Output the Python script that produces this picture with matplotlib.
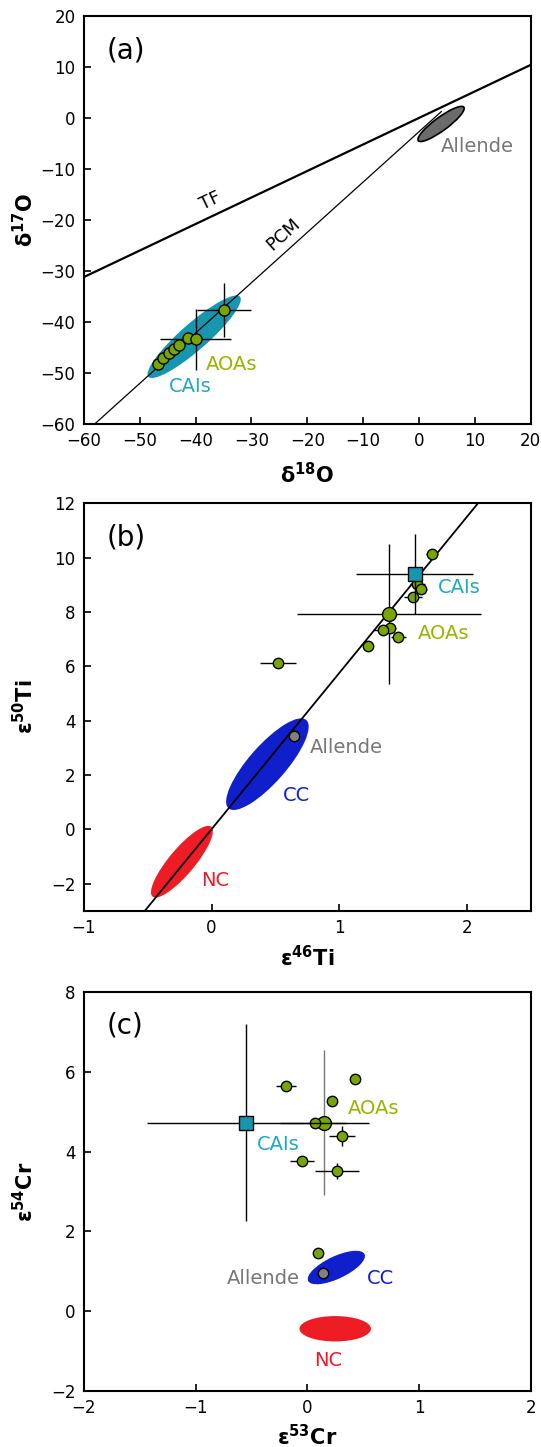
import numpy as np
import matplotlib
matplotlib.use('Agg')
import matplotlib.pyplot as plt
from matplotlib.patches import Ellipse
from matplotlib.transforms import Affine2D

# ---------------- data ----------------
# (a) oxygen isotopes, AOAs
o18_aoa = [-34.9, -40.0, -41.3, -42.9, -43.9, -44.8, -45.9, -46.8]
o17_aoa = [-37.6, -43.4, -43.1, -44.5, -45.3, -46.0, -47.1, -48.2]
o18_err = [4.8, 6.3, 0, 0, 0, 0, 0, 0]
o17_err = [5.3, 6.0, 0, 0, 0, 0, 0, 0]
tf_slope, tf_icpt = 0.52, 0.0
pcm_slope, pcm_icpt = 0.987, -2.7
pcm_xmax = 4.0
# ellipses: centre, half major axis vector (data), minor width (x units)
o_cai_ell = (-40.25, -42.9, 8.2, 7.85, 4.8)
o_allende_ell = (3.95, -1.18, 4.08, 3.28, 2.4)

# (b) titanium isotopes
ti_slope = 5.75
ti46_aoa = [1.726, 1.613, 1.64, 1.579, 1.397, 1.346, 1.462, 1.226, 0.52]
ti50_aoa = [10.12, 9.02, 8.84, 8.56, 7.42, 7.33, 7.07, 6.75, 6.13]
ti46_err = [0.05, 0.06, 0.05, 0.07, 0.05, 0.08, 0.06, 0.03, 0.14]
ti50_err = [0.1, 0.15, 0.15, 0.1, 0.15, 0.1, 0.1, 0.1, 0.05]
ti_aoa_mean = (1.391, 7.93, 0.72, 2.57)
ti_cai = (1.59, 9.40, 0.46, 1.46)
ti_allende = (0.643, 3.43)
ti_nc_ell = (-0.232, -1.195, 0.23, 1.285, 0.2)
ti_cc_ell = (0.4375, 2.395, 0.3045, 1.625, 0.29)

# (c) chromium isotopes
cr53_aoa = [-0.187, 0.43, 0.22, 0.07, 0.312, -0.048, 0.266, 0.097]
cr54_aoa = [5.65, 5.81, 5.28, 4.73, 4.39, 3.76, 3.51, 1.47]
cr53_err = [0.09, 0.03, 0.03, 0.03, 0.115, 0.11, 0.195, 0.0]
cr54_err = [0.05, 0.12, 0.12, 0.05, 0.25, 0.05, 0.2, 0.0]
cr_aoa_mean = (0.152, 4.73, 0.40, 1.82)
cr_cai = (-0.547, 4.73, 0.89, 2.48)
cr_allende = (0.137, 0.96)
cr_cc_ell = (0.26, 1.095, 0.2525, 0.335, 0.2)
cr_nc_ell = (0.25, -0.44, 0.32, 0.0, 0.227)

# ---------------- style ----------------
green = '#78a600'
green_txt = '#9ab400'
teal = '#1796b0'
teal_txt = '#22a8c2'
blue = '#0f1fcc'
red = '#ee1c25'
gray_ell = '#6b6b6b'
gray_txt = '#777777'
gray_pt = '#808080'

plt.rcParams['font.family'] = 'DejaVu Sans'
plt.rcParams['axes.linewidth'] = 1.5

W, H = 5.41, 14.47
fig = plt.figure(figsize=(W, H), dpi=100)

left, width = 0.155, 0.826
ax_a = fig.add_axes([left, 0.707, width, 0.282])
ax_b = fig.add_axes([left, 0.3706, width, 0.2816])
ax_c = fig.add_axes([left, 0.0387, width, 0.2757])


def style(ax, xlim, ylim, xticks, yticks, xlabel, ylabel, tag, xlab_y):
    ax.set_xlim(*xlim)
    ax.set_ylim(*ylim)
    ax.set_xticks(xticks)
    ax.set_yticks(yticks)
    ax.tick_params(direction='in', length=5, width=1.2, top=False, right=False,
                   labelsize=12, pad=6)
    ax.set_xlabel(xlabel, fontsize=15, fontweight='bold')
    ax.set_ylabel(ylabel, fontsize=15, fontweight='bold')
    ax.xaxis.set_label_coords(0.5, xlab_y)
    ax.yaxis.set_label_coords(-0.104, 0.5)
    ax.text(0.05, 0.915, tag, transform=ax.transAxes, fontsize=20,
            ha='left', va='center')


def yscale_k(ax):
    # ratio (y units per px)/(x units per px) so ellipses are drawn isotropically
    bb = ax.get_position()
    x0, x1 = ax.get_xlim()
    y0, y1 = ax.get_ylim()
    return ((y1 - y0) / (bb.height * H)) / ((x1 - x0) / (bb.width * W))


def add_ellipse(ax, ell, **kw):
    cx, cy, dx, dy, minor = ell
    k = yscale_k(ax)
    w = 2 * np.hypot(dx, dy / k)
    ang = np.degrees(np.arctan2(dy / k, dx))
    e = Ellipse((cx, cy / k), w, minor, angle=ang,
                transform=Affine2D().scale(1, k) + ax.transData, **kw)
    ax.add_patch(e)


pt_kw = dict(fmt='o', mfc=green, mec='k', mew=1, ecolor='k', elinewidth=1,
             capsize=0, zorder=5)

# ---------------- (a) ----------------
style(ax_a, (-60, 20), (-60, 20), range(-60, 21, 10), range(-60, 21, 10),
      'δ$^{\\mathbf{18}}$O', 'δ$^{\\mathbf{17}}$O', '(a)', -0.092)
xx = np.array([-60, 20])
ax_a.plot(xx, tf_slope * xx + tf_icpt, color='k', lw=1.6, zorder=4)
xp = np.array([-60, pcm_xmax])
ax_a.plot(xp, pcm_slope * xp + pcm_icpt, color='k', lw=0.9, zorder=2)
add_ellipse(ax_a, o_cai_ell, facecolor=teal, edgecolor='none', zorder=1)
add_ellipse(ax_a, o_allende_ell, facecolor=gray_ell, edgecolor='k', lw=1.2, zorder=3)
ax_a.errorbar(o18_aoa[::-1], o17_aoa[::-1], xerr=o18_err[::-1], yerr=o17_err[::-1],
              ms=8, **pt_kw)
ax_a.text(-37.3, -16.2, 'TF', rotation=25.4, fontsize=13, ha='center', va='center',
          rotation_mode='anchor')
ax_a.text(-24.3, -22.9, 'PCM', rotation=42, fontsize=13, ha='center', va='center',
          rotation_mode='anchor')
ax_a.text(3.9, -5.6, 'Allende', color=gray_txt, fontsize=14, va='center')
ax_a.text(-38.1, -48.4, 'AOAs', color=green_txt, fontsize=14, va='center')
ax_a.text(-44.7, -52.7, 'CAIs', color=teal_txt, fontsize=14, va='center')

# ---------------- (b) ----------------
style(ax_b, (-1, 2.5), (-3, 12), [-1, 0, 1, 2], range(-2, 13, 2),
      'ε$^{\\mathbf{46}}$Ti', 'ε$^{\\mathbf{50}}$Ti', '(b)', -0.083)
add_ellipse(ax_b, ti_nc_ell, facecolor=red, edgecolor='none', zorder=1)
add_ellipse(ax_b, ti_cc_ell, facecolor=blue, edgecolor='none', zorder=1)
xb = np.array([-1, 2.5])
ax_b.plot(xb, ti_slope * xb, color='k', lw=1.3, zorder=2)
ax_b.errorbar(ti46_aoa, ti50_aoa, xerr=ti46_err, yerr=ti50_err, ms=7.5, **pt_kw)
ax_b.errorbar([ti_aoa_mean[0]], [ti_aoa_mean[1]], xerr=[ti_aoa_mean[2]],
              yerr=[ti_aoa_mean[3]], ms=10, **pt_kw)
ax_b.errorbar([ti_cai[0]], [ti_cai[1]], xerr=[ti_cai[2]], yerr=[ti_cai[3]],
              fmt='s', mfc=teal, mec='k', mew=1, ms=10, ecolor='k', elinewidth=1,
              capsize=0, zorder=6)
ax_b.plot([ti_allende[0]], [ti_allende[1]], 'o', mfc=gray_pt, mec='k', mew=1, ms=7.5,
          zorder=5)
ax_b.text(1.775, 8.91, 'CAIs', color=teal_txt, fontsize=14, va='center')
ax_b.text(1.616, 7.19, 'AOAs', color=green_txt, fontsize=14, va='center')
ax_b.text(0.769, 3.0, 'Allende', color=gray_txt, fontsize=14, va='center')
ax_b.text(0.561, 1.26, 'CC', color=blue, fontsize=14, va='center')
ax_b.text(-0.083, -1.87, 'NC', color=red, fontsize=14, va='center')

# ---------------- (c) ----------------
style(ax_c, (-2, 2), (-2, 8), [-2, -1, 0, 1, 2], range(-2, 9, 2),
      'ε$^{\\mathbf{53}}$Cr', 'ε$^{\\mathbf{54}}$Cr', '(c)', -0.083)
add_ellipse(ax_c, cr_nc_ell, facecolor=red, edgecolor='none', zorder=1)
add_ellipse(ax_c, cr_cc_ell, facecolor=blue, edgecolor='none', zorder=1)
ax_c.errorbar([cr_aoa_mean[0]], [cr_aoa_mean[1]], yerr=[cr_aoa_mean[3]], fmt='none',
              ecolor='#777777', elinewidth=1, capsize=0, zorder=4)
ax_c.errorbar([cr_aoa_mean[0]], [cr_aoa_mean[1]], xerr=[cr_aoa_mean[2]], fmt='none',
              ecolor='k', elinewidth=1, capsize=0, zorder=4)
ax_c.errorbar([cr_cai[0]], [cr_cai[1]], xerr=[cr_cai[2]], yerr=[cr_cai[3]],
              fmt='s', mfc=teal, mec='k', mew=1, ms=10, ecolor='k', elinewidth=1,
              capsize=0, zorder=6)
ax_c.errorbar(cr53_aoa, cr54_aoa, xerr=cr53_err, yerr=cr54_err, ms=7.5, **pt_kw)
ax_c.plot([cr_aoa_mean[0]], [cr_aoa_mean[1]], 'o', mfc=green, mec='k', mew=1, ms=10,
          zorder=5)
ax_c.plot([cr_allende[0]], [cr_allende[1]], 'o', mfc=gray_pt, mec='k', mew=1, ms=7.5,
          zorder=5)
ax_c.text(0.363, 5.08, 'AOAs', color=green_txt, fontsize=14, va='center')
ax_c.text(-0.455, 4.17, 'CAIs', color=teal_txt, fontsize=14, va='center')
ax_c.text(-0.071, 0.82, 'Allende', color=gray_txt, fontsize=14, va='center', ha='right')
ax_c.text(0.532, 0.82, 'CC', color=blue, fontsize=14, va='center')
ax_c.text(0.185, -1.23, 'NC', color=red, fontsize=14, va='center', ha='center')

fig.savefig('out.png', dpi=100)
